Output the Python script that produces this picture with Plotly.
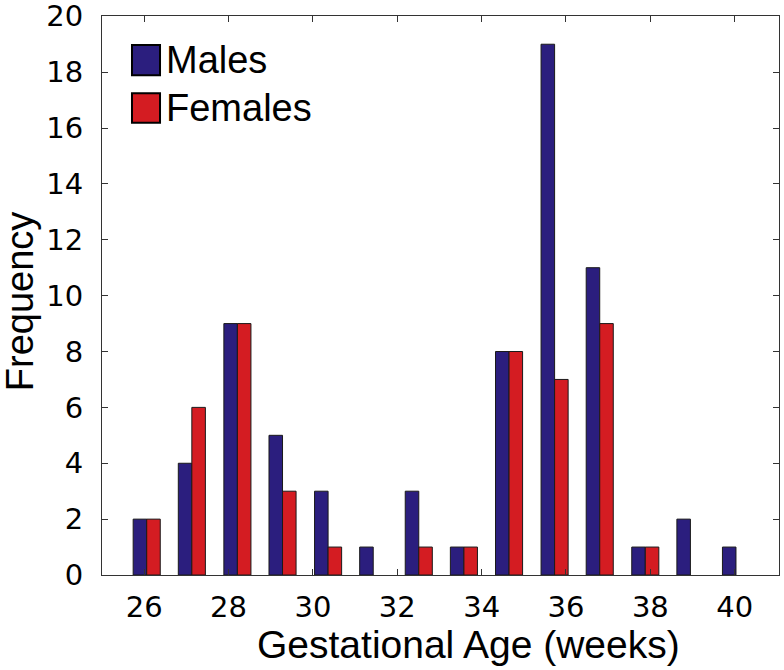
import plotly.graph_objects as go

# Histogram bin centres (weeks) and counts
bin_centres = [26.06, 27.13, 28.21, 29.28, 30.36, 31.43, 32.51,
               33.58, 34.65, 35.73, 36.80, 37.88, 38.95, 40.03]
males = [2, 4, 9, 5, 3, 1, 3, 1, 8, 19, 11, 1, 2, 1]
females = [2, 6, 9, 3, 1, 0, 1, 1, 8, 7, 9, 1, 0, 0]
series_names = ["Males", "Females"]
series_colors = ["#2b1e7e", "#d41c22"]
x_ticks = [26, 28, 30, 32, 34, 36, 38, 40]
y_ticks = [0, 2, 4, 6, 8, 10, 12, 14, 16, 18, 20]

fig = go.Figure()
for name, vals, col in zip(series_names, [males, females], series_colors):
    fig.add_trace(go.Bar(
        x=bin_centres, y=vals, name=name,
        marker=dict(color=col,
                    line=dict(color="#1a1a1a", width=[1 if v > 0 else 0 for v in vals])),
        showlegend=False,
    ))

# Custom legend (large swatches like the original)
leg_y = [(0.948, 0.894, 0.921), (0.862, 0.809, 0.835)]
for (y1, y0, yc), name, col in zip(leg_y, series_names, series_colors):
    fig.add_shape(type="rect", xref="paper", yref="paper",
                  x0=0.0443, x1=0.0857, y0=y0, y1=y1,
                  fillcolor=col, line=dict(color="black", width=2))
    fig.add_annotation(xref="paper", yref="paper", x=0.092, y=yc,
                       text=name, showarrow=False, xanchor="left", yanchor="middle",
                       font=dict(family="Liberation Sans, Arial", size=38, color="black"))

# Axis titles placed as in the original
fig.add_annotation(xref="paper", yref="paper", x=0.542, y=-0.125,
                   text="Gestational Age (weeks)", showarrow=False,
                   xanchor="center", yanchor="middle",
                   font=dict(family="Liberation Sans, Arial", size=39, color="black"))
fig.add_annotation(xref="paper", yref="paper", x=-0.121, y=0.49,
                   text="Frequency", showarrow=False, textangle=-90,
                   xanchor="center", yanchor="middle",
                   font=dict(family="Liberation Sans, Arial", size=38, color="black"))

axis_common = dict(
    showline=True, linecolor="#333333", linewidth=1, mirror="ticks",
    ticks="inside", ticklen=6, tickcolor="#333333", tickwidth=1,
    showgrid=False, zeroline=False, automargin=False, ticklabeloverflow="allow",
    tickfont=dict(family="DejaVu Sans", size=29, color="black"),
)

fig.update_layout(
    width=784, height=670,
    margin=dict(l=102, r=5, t=16, b=95),
    paper_bgcolor="white", plot_bgcolor="white",
    barmode="group", bargap=0.4, bargroupgap=0,
    xaxis=dict(range=[25, 41.05], tickvals=x_ticks, ticklabelstandoff=6,
               **axis_common),
    yaxis=dict(range=[0, 20.01], tickvals=y_ticks, ticklabelstandoff=12,
               **axis_common),
)

fig.write_html("out.html", config={"displayModeBar": False},
               post_script="document.body.style.margin='0';document.body.style.padding='0';")
